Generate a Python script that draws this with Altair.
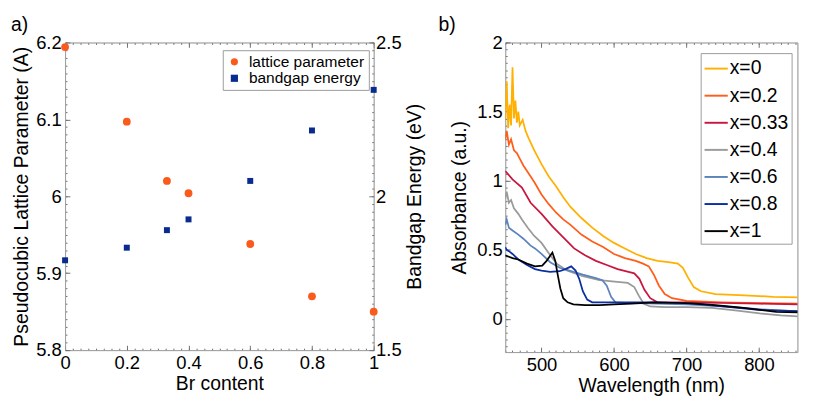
import altair as alt
import pandas as pd

FONT = "Liberation Sans"

# ---------------- panel a data ----------------
br_content = [0.0, 0.2, 0.33, 0.4, 0.6, 0.8, 1.0]
lattice_parameter = [6.194, 6.097, 6.020, 6.004, 5.938, 5.870, 5.850]
bandgap_energy = [1.792, 1.833, 1.890, 1.925, 2.050, 2.214, 2.346]
series_a = ["lattice parameter", "bandgap energy"]
colors_a = ["#FA5A1C", "#0A2B8E"]

# ---------------- panel b data ----------------
labels_b = ["x=0", "x=0.2", "x=0.33", "x=0.4", "x=0.6", "x=0.8", "x=1"]
colors_b = ["#FFB000", "#FF5E1A", "#C8163F", "#9A9A9A", "#5B84BC", "#0B2FA3", "#000000"]

wl_x0 = [450, 452, 454, 456, 458, 460, 462, 464, 466, 468, 470, 474, 478, 482, 490, 500, 510, 520,
         530, 540, 555, 570, 585, 600, 615, 630, 645, 660, 675, 688, 695, 702, 710, 720, 740, 780, 820, 866]
ab_x0 = [1.45, 1.72, 1.38, 1.55, 1.40, 1.82, 1.45, 1.58, 1.42, 1.50, 1.40, 1.44, 1.36, 1.31, 1.22, 1.12, 1.03, 0.96,
         0.88, 0.81, 0.73, 0.66, 0.60, 0.55, 0.51, 0.47, 0.44, 0.42, 0.41, 0.40, 0.37, 0.30, 0.23, 0.20, 0.18, 0.17, 0.16, 0.155]

wl_x02 = [450, 452, 455, 458, 462, 466, 470, 475, 480, 490, 500, 510, 520, 530, 540, 555, 570, 585, 600,
          615, 630, 640, 648, 655, 662, 670, 680, 700, 750, 800, 866]
ab_x02 = [1.30, 1.36, 1.26, 1.30, 1.22, 1.20, 1.16, 1.11, 1.07, 0.99, 0.90, 0.83, 0.77, 0.72, 0.68, 0.61, 0.56, 0.52, 0.47,
          0.44, 0.42, 0.40, 0.38, 0.32, 0.24, 0.18, 0.15, 0.13, 0.12, 0.115, 0.11]

wl_x033 = [450, 460, 473, 485, 500, 515, 530, 545, 560, 575, 590, 605, 620, 628, 635, 642, 650, 660, 700, 750, 800, 866]
ab_x033 = [1.07, 1.01, 0.95, 0.84, 0.76, 0.67, 0.59, 0.51, 0.46, 0.42, 0.39, 0.36, 0.34, 0.33, 0.29, 0.21, 0.15, 0.12,
           0.12, 0.115, 0.11, 0.105]

wl_x04 = [450, 452, 455, 458, 462, 468, 473, 481, 490, 500, 512, 521, 535, 557, 580, 601, 619, 628, 634, 641,
          650, 670, 700, 735, 770, 801, 830, 866]
ab_x04 = [0.87, 0.92, 0.84, 0.86, 0.80, 0.76, 0.72, 0.66, 0.60, 0.55, 0.46, 0.40, 0.35, 0.31, 0.28, 0.27, 0.26, 0.23,
          0.17, 0.11, 0.09, 0.085, 0.085, 0.08, 0.06, 0.04, 0.025, 0.015]

wl_x06 = [450, 452, 455, 460, 468, 475, 485, 491, 500, 512, 525, 535, 557, 575, 584, 590, 596, 602, 620, 660,
          700, 750, 800, 866]
ab_x06 = [0.68, 0.72, 0.66, 0.64, 0.61, 0.58, 0.53, 0.51, 0.47, 0.41, 0.37, 0.355, 0.32, 0.295, 0.28, 0.24, 0.16,
          0.12, 0.115, 0.11, 0.105, 0.09, 0.07, 0.05]

wl_x08 = [450, 452, 455, 460, 468, 480, 491, 500, 512, 525, 533, 541, 547, 552, 557, 563, 570, 600, 650, 700,
          750, 800, 866]
ab_x08 = [0.52, 0.50, 0.49, 0.47, 0.43, 0.39, 0.36, 0.35, 0.34, 0.345, 0.36, 0.38, 0.35, 0.29, 0.20, 0.14, 0.12,
          0.12, 0.12, 0.115, 0.09, 0.065, 0.055]

wl_x1 = [450, 455, 460, 468, 480, 491, 501, 507, 511, 515, 519, 522, 526, 530, 536, 544, 560, 580, 600, 624,
         655, 690, 712, 740, 779, 824, 866]
ab_x1 = [0.46, 0.45, 0.44, 0.43, 0.40, 0.38, 0.385, 0.42, 0.45, 0.48, 0.42, 0.33, 0.22, 0.15, 0.12, 0.105, 0.10,
         0.10, 0.105, 0.11, 0.12, 0.115, 0.11, 0.10, 0.08, 0.05, 0.045]

spectra = [(wl_x0, ab_x0), (wl_x02, ab_x02), (wl_x033, ab_x033), (wl_x04, ab_x04),
           (wl_x06, ab_x06), (wl_x08, ab_x08), (wl_x1, ab_x1)]

# ---------------- tables ----------------
lat_df = pd.DataFrame({"br": br_content, "val": lattice_parameter, "series": series_a[0]})
bg_df = pd.DataFrame({"br": br_content, "val": bandgap_energy, "series": series_a[1]})
rows = []
for lab, (wl, ab) in zip(labels_b, spectra):
    for w, a in zip(wl, ab):
        rows.append({"wl": w, "ab": a, "sample": lab})
spec_df = pd.DataFrame(rows)


def steps(lo, hi, step):
    n = int(round((hi - lo) / step))
    return [round(lo + i * step, 4) for i in range(n + 1)]


TICK_COLOR = "#6e6e6e"
FRAME_COLOR = "#9a9a9a"


def axis(orient, values, labels=True, title=None, tick=5, label_pad=4, title_pad=3, fmt="~g", **extra):
    return alt.Axis(orient=orient, values=values, labels=labels, title=title, offset=-tick, tickSize=tick,
                    domain=False, grid=False, ticks=True, tickColor=TICK_COLOR, tickWidth=1, tickOpacity=1,
                    format=fmt, labelFont=FONT, labelFontSize=19, labelColor="black", labelFlush=False,
                    labelOverlap=False, labelPadding=label_pad, titleFont=FONT, titleFontSize=20,
                    titleFontWeight="normal", titleColor="black", titlePadding=title_pad, **extra)


def frame_axis(orient):
    return alt.Axis(orient=orient, labels=False, ticks=False, grid=False, domain=True,
                    domainColor=FRAME_COLOR, domainWidth=1, domainOpacity=1, title=None, offset=0)


# ---------------- panel a ----------------
xs_a = alt.Scale(domain=[0, 1], nice=False, zero=False)
ys_lat = alt.Scale(domain=[5.8, 6.2], nice=False, zero=False)
ys_bg = alt.Scale(domain=[1.5, 2.5], nice=False, zero=False)

leg_a = alt.Legend(orient="none", legendX=163, legendY=8, title=None, labelFont=FONT,
                   labelFontSize=16, labelColor="black", fillColor="white", strokeColor="#999999",
                   padding=4, rowPadding=1, symbolSize=55, symbolStrokeWidth=0, labelOffset=7)
col_a = alt.Color("series:N", scale=alt.Scale(domain=series_a, range=colors_a), legend=leg_a)
shp_a = alt.Shape("series:N", scale=alt.Scale(domain=series_a, range=["circle", "square"]), legend=leg_a)

x_major_a = steps(0, 1, 0.2)
x_minor_a = steps(0, 1, 0.025)

a1 = alt.Chart(lat_df).mark_point(filled=True, size=65, opacity=1).encode(
    x=alt.X("br:Q", scale=xs_a, axis=axis("bottom", x_major_a, title="Br content", label_pad=4, title_pad=2)),
    y=alt.Y("val:Q", scale=ys_lat, axis=axis("left", steps(5.8, 6.2, 0.1),
                                             title="Pseudocubic Lattice Parameter (A)", label_pad=4, title_pad=4)),
    color=col_a, shape=shp_a)

a2 = alt.Chart(bg_df).mark_point(filled=True, size=38, opacity=1).encode(
    x=alt.X("br:Q", scale=xs_a, axis=axis("top", x_major_a, labels=False)),
    y=alt.Y("val:Q", scale=ys_bg, axis=axis("right", steps(1.5, 2.5, 0.5), title="Bandgap Energy (eV)",
                                            label_pad=2, title_pad=24, titleAngle=270)),
    color=col_a, shape=shp_a)

a3 = alt.Chart(lat_df).mark_point(opacity=0).encode(
    x=alt.X("br:Q", scale=xs_a, axis=axis("bottom", x_minor_a, labels=False, tick=2)),
    y=alt.Y("val:Q", scale=ys_lat, axis=axis("left", steps(5.8, 6.2, 0.01), labels=False, tick=2)))

a4 = alt.Chart(bg_df).mark_point(opacity=0).encode(
    x=alt.X("br:Q", scale=xs_a, axis=axis("top", x_minor_a, labels=False, tick=2)),
    y=alt.Y("val:Q", scale=ys_bg, axis=axis("right", steps(1.5, 2.5, 0.025), labels=False, tick=2)))

a5 = alt.Chart(lat_df).mark_point(opacity=0).encode(
    x=alt.X("br:Q", scale=xs_a, axis=frame_axis("bottom")),
    y=alt.Y("val:Q", scale=ys_lat, axis=frame_axis("left")))

a6 = alt.Chart(bg_df).mark_point(opacity=0).encode(
    x=alt.X("br:Q", scale=xs_a, axis=frame_axis("top")),
    y=alt.Y("val:Q", scale=ys_bg, axis=frame_axis("right")))

panel_a = alt.layer(a1, a2, a3, a4, a5, a6).resolve_scale(y="independent").resolve_axis(
    x="independent", y="independent").properties(
    width=319, height=318,
    title=alt.TitleParams("a)", anchor="start", frame="group", dx=-56, fontSize=20, font=FONT,
                          fontWeight="normal", color="black", offset=-1))

# ---------------- panel b ----------------
xs_b = alt.Scale(domain=[450, 853], nice=False, zero=False)
ys_b = alt.Scale(domain=[-0.24, 2], nice=False, zero=False)

leg_b = alt.Legend(orient="none", legendX=202, legendY=11, title=None, labelFont=FONT,
                   labelFontSize=20, labelColor="black", fillColor="white", strokeColor="#999999",
                   padding=3, rowPadding=5, symbolType="stroke", symbolSize=576, symbolStrokeWidth=2,
                   labelOffset=1)

b1 = alt.Chart(spec_df).mark_line(strokeWidth=1.8, clip=True).encode(
    x=alt.X("wl:Q", scale=xs_b, axis=axis("bottom", steps(500, 800, 100), title="Wavelength (nm)",
                                          label_pad=4, title_pad=2, fmt="d")),
    y=alt.Y("ab:Q", scale=ys_b, axis=axis("left", steps(0, 2, 0.5), title="Absorbance (a.u.)",
                                          label_pad=3, title_pad=8)),
    color=alt.Color("sample:N", scale=alt.Scale(domain=labels_b, range=colors_b), legend=leg_b),
    detail="sample:N")

b2 = alt.Chart(spec_df).mark_point(opacity=0).encode(
    x=alt.X("wl:Q", scale=xs_b, axis=axis("top", steps(500, 800, 100), labels=False)),
    y=alt.Y("ab:Q", scale=ys_b, axis=None))

b3 = alt.Chart(spec_df).mark_point(opacity=0).encode(
    x=alt.X("wl:Q", scale=xs_b, axis=axis("bottom", steps(450, 850, 10), labels=False, tick=2)),
    y=alt.Y("ab:Q", scale=ys_b, axis=axis("left", steps(-0.2, 2, 0.05), labels=False, tick=2)))

b4 = alt.Chart(spec_df).mark_point(opacity=0).encode(
    x=alt.X("wl:Q", scale=xs_b, axis=axis("top", steps(450, 850, 10), labels=False, tick=2)),
    y=alt.Y("ab:Q", scale=ys_b, axis=None))

b5 = alt.Chart(spec_df).mark_point(opacity=0).encode(
    x=alt.X("wl:Q", scale=xs_b, axis=frame_axis("bottom")),
    y=alt.Y("ab:Q", scale=ys_b, axis=frame_axis("left")))

b6 = alt.Chart(spec_df).mark_point(opacity=0).encode(
    x=alt.X("wl:Q", scale=xs_b, axis=frame_axis("top")),
    y=alt.Y("ab:Q", scale=ys_b, axis=frame_axis("right")))

panel_b = alt.layer(b1, b2, b3, b4, b5, b6).resolve_axis(x="independent", y="independent").properties(
    width=302, height=320,
    title=alt.TitleParams("b)", anchor="start", frame="group", dx=-69, fontSize=20, font=FONT,
                          fontWeight="normal", color="black", offset=-1))

chart = alt.hconcat(panel_a, panel_b, spacing=13).resolve_scale(
    color="independent", shape="independent").resolve_legend(
    color="independent", shape="independent").properties(
    padding={"left": 2, "top": 0, "right": 0, "bottom": 0}
).configure_view(stroke=FRAME_COLOR, strokeWidth=1).configure(font=FONT)

chart.save("out.html", embed_options={"renderer": "svg", "actions": False})
